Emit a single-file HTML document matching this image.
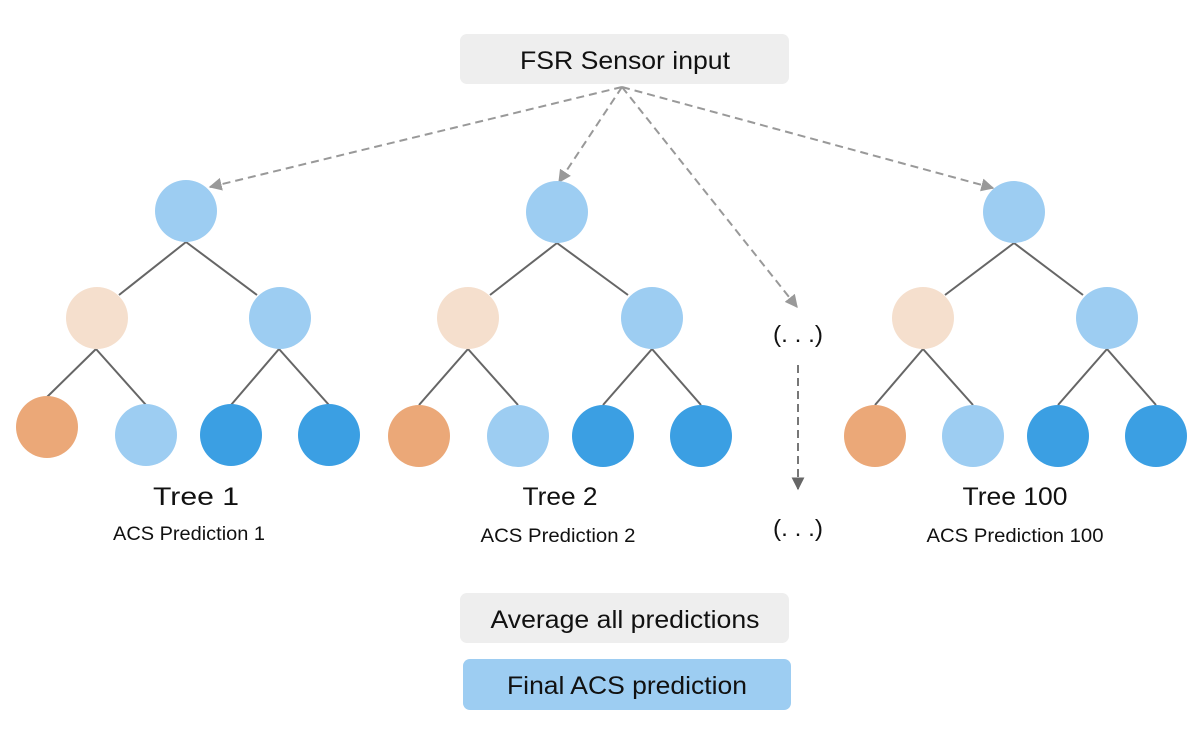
<!DOCTYPE html>
<html><head><style>
body{margin:0;background:#fff;}
svg text{font-family:"Liberation Sans",sans-serif;fill:#111;}
</style></head><body>
<svg width="1204" height="745" viewBox="0 0 1204 745" xmlns="http://www.w3.org/2000/svg">
<defs>
<marker id="a" viewBox="0 0 10 10" refX="9" refY="5" markerWidth="6.5" markerHeight="6.5" orient="auto"><path d="M0,0 L10,5 L0,10 z" fill="#999"/></marker>
<marker id="b" viewBox="0 0 10 10" refX="9" refY="5" markerWidth="6.5" markerHeight="6.5" orient="auto"><path d="M0,0 L10,5 L0,10 z" fill="#666"/></marker>
</defs>
<rect x="460" y="34" width="329" height="50" rx="7" fill="#eeeeee"/>
<text x="625" y="69" font-size="25" text-anchor="middle" textLength="210" lengthAdjust="spacingAndGlyphs">FSR Sensor input</text>
<g stroke="#999" stroke-width="2" stroke-dasharray="8,5" fill="none">
<line x1="622" y1="87" x2="210" y2="187" marker-end="url(#a)"/>
<line x1="622" y1="87" x2="559" y2="182" marker-end="url(#a)"/>
<line x1="622" y1="87" x2="797" y2="307" marker-end="url(#a)"/>
<line x1="622" y1="87" x2="993" y2="188" marker-end="url(#a)"/>
</g>
<line x1="798" y1="365" x2="798" y2="489" stroke="#777" stroke-width="2" stroke-dasharray="8,5" marker-end="url(#b)"/>
<text x="798" y="342" font-size="23" text-anchor="middle" textLength="50" lengthAdjust="spacingAndGlyphs">(. . .)</text>
<text x="798" y="536" font-size="23" text-anchor="middle" textLength="50" lengthAdjust="spacingAndGlyphs">(. . .)</text>
<g stroke="#666" stroke-width="2" fill="none">
<path d="M186,242 L119,295 M186,242 L257,295 M96,349 L47,397 M96,349 L146,405 M279,349 L231,405 M279,349 L329,405"/>
<path d="M557,243 L490,295 M557,243 L628,295 M468,349 L419,405 M468,349 L518,405 M652,349 L603,405 M652,349 L701,405"/>
<path d="M1014,243 L945,295 M1014,243 L1083,295 M923,349 L875,405 M923,349 L973,405 M1107,349 L1058,405 M1107,349 L1156,405"/>
</g>
<g>
<circle cx="186" cy="211" r="31" fill="#9dcdf2"/>
<circle cx="97" cy="318" r="31" fill="#f5dfcd"/>
<circle cx="280" cy="318" r="31" fill="#9dcdf2"/>
<circle cx="47" cy="427" r="31" fill="#eba878"/>
<circle cx="146" cy="435" r="31" fill="#9dcdf2"/>
<circle cx="231" cy="435" r="31" fill="#3b9fe3"/>
<circle cx="329" cy="435" r="31" fill="#3b9fe3"/>
<circle cx="557" cy="212" r="31" fill="#9dcdf2"/>
<circle cx="468" cy="318" r="31" fill="#f5dfcd"/>
<circle cx="652" cy="318" r="31" fill="#9dcdf2"/>
<circle cx="419" cy="436" r="31" fill="#eba878"/>
<circle cx="518" cy="436" r="31" fill="#9dcdf2"/>
<circle cx="603" cy="436" r="31" fill="#3b9fe3"/>
<circle cx="701" cy="436" r="31" fill="#3b9fe3"/>
<circle cx="1014" cy="212" r="31" fill="#9dcdf2"/>
<circle cx="923" cy="318" r="31" fill="#f5dfcd"/>
<circle cx="1107" cy="318" r="31" fill="#9dcdf2"/>
<circle cx="875" cy="436" r="31" fill="#eba878"/>
<circle cx="973" cy="436" r="31" fill="#9dcdf2"/>
<circle cx="1058" cy="436" r="31" fill="#3b9fe3"/>
<circle cx="1156" cy="436" r="31" fill="#3b9fe3"/>
</g>
<text x="196" y="505" font-size="25" text-anchor="middle" textLength="86" lengthAdjust="spacingAndGlyphs">Tree 1</text>
<text x="189" y="540" font-size="19" text-anchor="middle" textLength="152" lengthAdjust="spacingAndGlyphs">ACS Prediction 1</text>
<text x="560" y="505" font-size="25" text-anchor="middle" textLength="75" lengthAdjust="spacingAndGlyphs">Tree 2</text>
<text x="558" y="542" font-size="19" text-anchor="middle" textLength="155" lengthAdjust="spacingAndGlyphs">ACS Prediction 2</text>
<text x="1015" y="505" font-size="25" text-anchor="middle" textLength="105" lengthAdjust="spacingAndGlyphs">Tree 100</text>
<text x="1015" y="542" font-size="19" text-anchor="middle" textLength="177" lengthAdjust="spacingAndGlyphs">ACS Prediction 100</text>
<rect x="460" y="593" width="329" height="50" rx="7" fill="#eeeeee"/>
<text x="625" y="628" font-size="25" text-anchor="middle" textLength="269" lengthAdjust="spacingAndGlyphs">Average all predictions</text>
<rect x="463" y="659" width="328" height="51" rx="7" fill="#9dcdf2"/>
<text x="627" y="694" font-size="25" text-anchor="middle" textLength="240" lengthAdjust="spacingAndGlyphs">Final ACS prediction</text>
</svg>
</body></html>
